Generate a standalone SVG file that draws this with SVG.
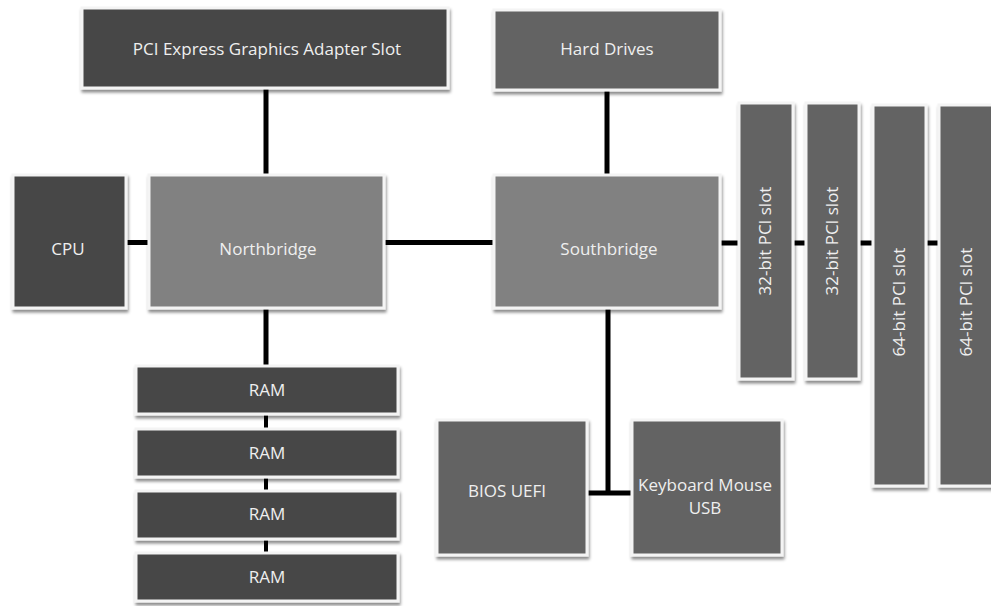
<svg xmlns="http://www.w3.org/2000/svg" width="991" height="606" viewBox="0 0 991 606">
<defs>
<filter id="sh" x="-10%" y="-10%" width="120%" height="130%">
<feDropShadow dx="1" dy="3" stdDeviation="1.4" flood-color="#000" flood-opacity="0.45"/>
</filter>
<style>
.box{stroke:#f4f4f4;stroke-width:3;filter:url(#sh)}
.d{fill:#464646}
.m{fill:#636363}
.l{fill:#818181}
text{font-family:"Open Sans","Noto Sans",sans-serif;font-size:17px;fill:#efefef;text-anchor:middle}
.c{stroke:#000;stroke-width:5;fill:none}
.cs{stroke:#000;stroke-width:4;fill:none}
</style>
</defs>
<rect width="991" height="606" fill="#fff"/>
<g id="connectors">
<line class="c" x1="266" y1="88" x2="266" y2="176"/>
<line class="c" x1="126" y1="242.5" x2="149" y2="242.5"/>
<line class="c" x1="384" y1="242.5" x2="494" y2="242.5"/>
<line class="c" x1="607" y1="90" x2="607" y2="176"/>
<line class="c" x1="266" y1="308" x2="266" y2="366"/>
<line class="cs" x1="266" y1="414" x2="266" y2="429"/>
<line class="cs" x1="266" y1="477" x2="266" y2="491"/>
<line class="cs" x1="266" y1="539" x2="266" y2="553"/>
<line class="c" x1="720" y1="243" x2="739" y2="243"/>
<line class="c" x1="793" y1="243" x2="806" y2="243"/>
<line class="c" x1="859" y1="243" x2="873" y2="243"/>
<line class="c" x1="926" y1="243" x2="939" y2="243"/>
<line class="c" x1="608" y1="308" x2="608" y2="493"/>
<line class="c" x1="587" y1="493" x2="632" y2="493"/>
</g>
<g id="pcie"><rect class="box d" x="82" y="8" width="366" height="80"/><text x="267" y="55">PCI Express Graphics Adapter Slot</text></g>
<g id="hdd"><rect class="box m" x="494" y="10" width="226" height="80"/><text x="607" y="55">Hard Drives</text></g>
<g id="cpu"><rect class="box d" x="13" y="175" width="113" height="133"/><text x="68" y="255">CPU</text></g>
<g id="northbridge"><rect class="box l" x="149" y="175" width="235" height="133"/><text x="268" y="255">Northbridge</text></g>
<g id="southbridge"><rect class="box l" x="494" y="175" width="226" height="133"/><text x="609" y="255">Southbridge</text></g>
<g id="slot1"><rect class="box m" x="739" y="103" width="54" height="276"/><text transform="translate(771,241) rotate(-90)">32-bit PCI slot</text></g>
<g id="slot2"><rect class="box m" x="806" y="103" width="53" height="276"/><text transform="translate(838,241) rotate(-90)">32-bit PCI slot</text></g>
<g id="slot3"><rect class="box m" x="873" y="105" width="53" height="381"/><text transform="translate(905,302) rotate(-90)">64-bit PCI slot</text></g>
<g id="slot4"><rect class="box m" x="939" y="105" width="60" height="381"/><text transform="translate(972,302) rotate(-90)">64-bit PCI slot</text></g>
<g id="ram1"><rect class="box d" x="136" y="366" width="262" height="48"/><text x="267" y="396">RAM</text></g>
<g id="ram2"><rect class="box d" x="136" y="429" width="262" height="48"/><text x="267" y="459">RAM</text></g>
<g id="ram3"><rect class="box d" x="136" y="491" width="262" height="48"/><text x="267" y="520">RAM</text></g>
<g id="ram4"><rect class="box d" x="136" y="553" width="262" height="48"/><text x="267" y="583">RAM</text></g>
<g id="bios"><rect class="box m" x="437" y="420" width="150" height="135"/><text x="507" y="497">BIOS UEFI</text></g>
<g id="kbd"><rect class="box m" x="632" y="420" width="150" height="135"/><text x="705" y="491">Keyboard Mouse</text><text x="705" y="514">USB</text></g>
</svg>
